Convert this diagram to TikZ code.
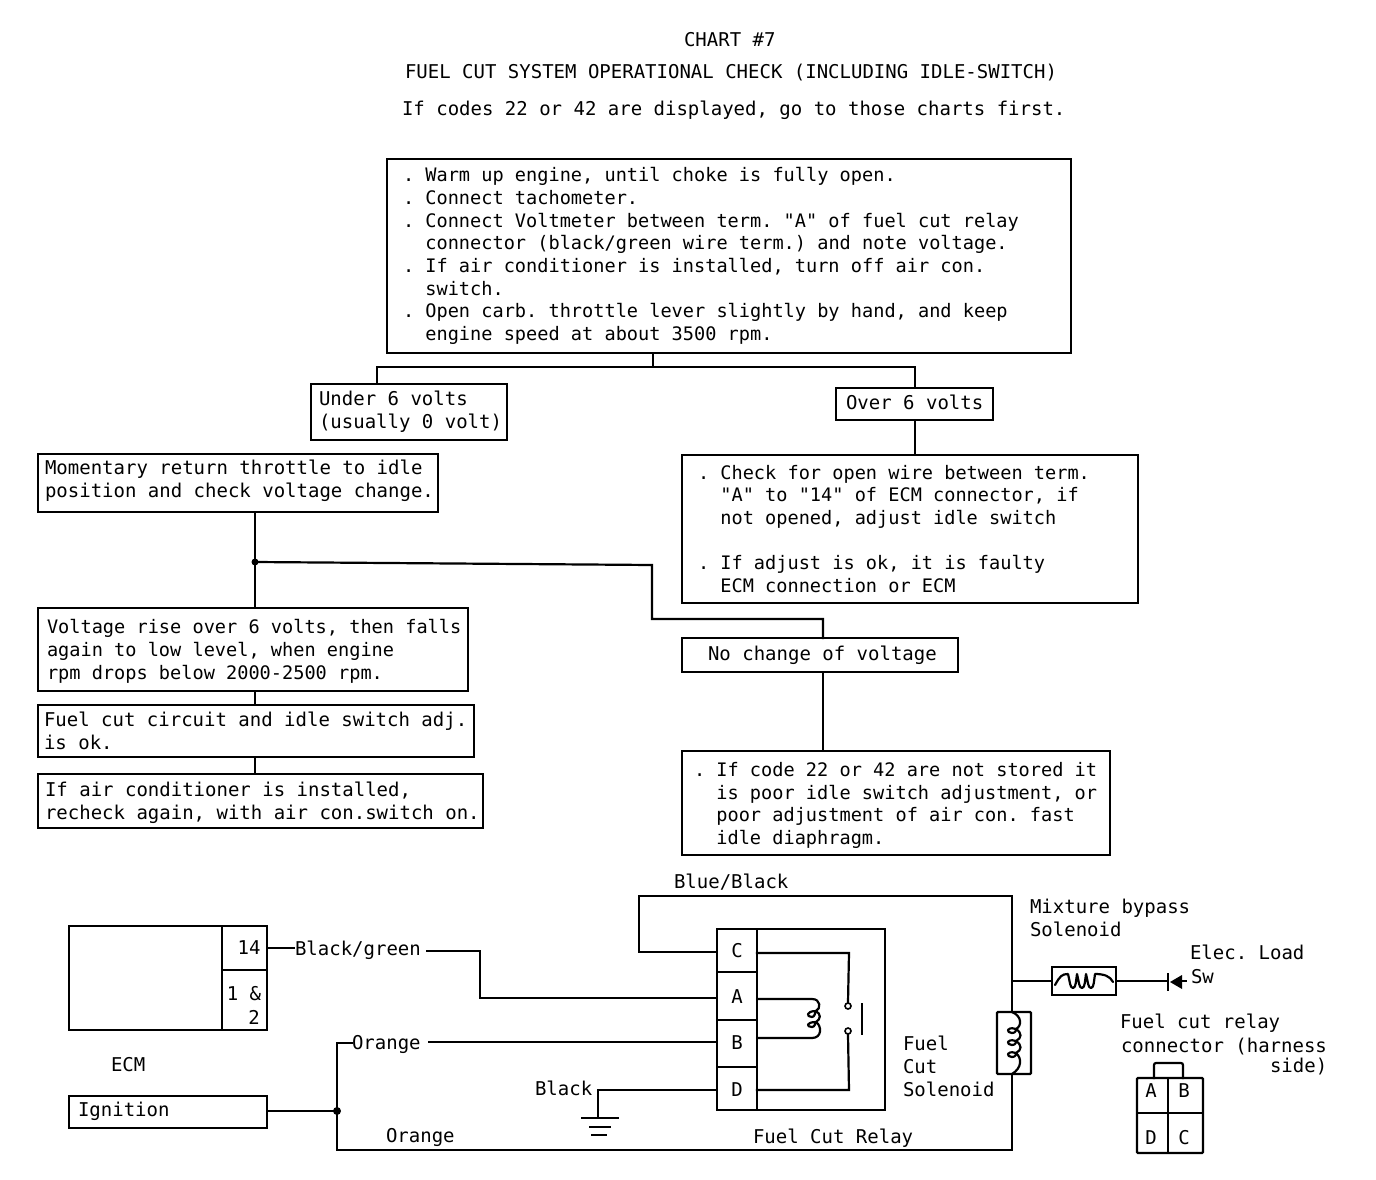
\documentclass[tikz,border=0pt]{standalone}
\usepackage{fontspec}
\setmonofont{DejaVu Sans Mono}
\renewcommand{\familydefault}{\ttdefault}
\newcommand{\nar}{\fontsize{18.6}{22.7}\selectfont\spaceskip=11.2pt\xspaceskip=11.2pt }
\newcommand{\bx}[7]{%
  \pgfmathsetmacro{\bw}{#4-#2}\pgfmathsetmacro{\bh}{#5-#3}%
  \pgfmathsetmacro{\bcx}{(#2+#4)/2}\pgfmathsetmacro{\bcy}{(#3+#5)/2}%
  \pgfmathsetmacro{\btw}{#4-#2-2}%
  \node[boxn,minimum width=\bw pt,minimum height=\bh pt,text width=\btw pt] (#1) at (\bcx,\bcy) {\leftskip=#6pt\relax\spaceskip=11.44pt\xspaceskip=11.44pt #7\par};}
\tikzset{
  boxn/.style={draw=black,line width=2pt,align=left,inner sep=0pt,outer sep=0pt,font=\fontsize{19}{22.7}\selectfont},
  rect/.style={draw=black,line width=2.4pt,inner sep=0pt,outer sep=0pt},
  txt/.style={anchor=base west,inner sep=0pt,outer sep=0pt,font=\fontsize{19}{22.7}\selectfont,align=left},
  small/.style={anchor=base,inner sep=0pt,outer sep=0pt,font=\fontsize{19}{22.7}\selectfont},
  wire/.style={line width=2.2pt,line join=miter,line cap=rect},
  thin wire/.style={line width=1.8pt},
  coil/.style={line width=2.2pt,line join=round,line cap=round},
  dotn/.style={circle,fill=black,inner sep=0pt,minimum size=7pt},
  ring/.style={circle,draw=black,line width=1.6pt,fill=white,inner sep=0pt,minimum size=6pt}
}
\begin{document}
\begin{tikzpicture}[x=1pt,y=-1pt]
\useasboundingbox (0,0) rectangle (1376,1180);
% titles
\node[txt] (t1) at (684,47) {CHART \#7};
\node[txt] (t2) at (405,79) {FUEL CUT SYSTEM OPERATIONAL CHECK (INCLUDING IDLE-SWITCH)};
\node[txt] (t3) at (402,116) {If codes 22 or 42 are displayed, go to those charts first.};
% flowchart boxes
\bx{start}{387}{159}{1071}{353}{15}{\nar . Warm up engine, until choke is fully open.\\. Connect tachometer.\\. Connect Voltmeter between term. "A" of fuel cut relay\\~~connector (black/green wire term.) and note voltage.\\. If air conditioner is installed, turn off air con.\\~~switch.\\. Open carb. throttle lever slightly by hand, and keep\\~~engine speed at about 3500 rpm.}
\bx{under}{311}{384}{507}{440}{7}{Under 6 volts\\(usually 0 volt)}
\bx{over}{836}{388}{993}{420}{9}{Over 6 volts\rule[-4pt]{0pt}{4pt}}
\bx{moment}{38}{454}{438}{512}{6}{Momentary return throttle to idle\\position and check voltage change.\rule[-8pt]{0pt}{8pt}}
\bx{check}{682}{455}{1138}{603}{15}{\nar . Check for open wire between term.\\~~"A" to "14" of ECM connector, if\\~~not opened, adjust idle switch\\~\\. If adjust is ok, it is faulty\\~~ECM connection or ECM}
\bx{rise}{38}{608}{468}{691}{8}{\nar\rule{0pt}{18pt}Voltage rise over 6 volts, then falls\\again to low level, when engine\\rpm drops below 2000-2500 rpm.}
\bx{nochange}{682}{638}{958}{672}{25}{No change of voltage}
\bx{fcok}{38}{705}{474}{757}{5}{Fuel cut circuit and idle switch adj.\\is ok.}
\bx{aircon}{38}{774}{483}{828}{6}{\rule{0pt}{18pt}If air conditioner is installed,\\recheck again, with air con.switch on.}
\bx{poor}{682}{751}{1110}{855}{11}{\nar\rule{0pt}{19pt}. If code 22 or 42 are not stored it\\~~is poor idle switch adjustment, or\\~~poor adjustment of air con. fast\\~~idle diaphragm.}
% flowchart connectors
\coordinate (split) at (653,367);
\coordinate (splitL) at (377,367);
\coordinate (splitR) at (915,367);
\coordinate (trunk) at (255,562);
\coordinate (bend1) at (652,565);
\coordinate (bend2) at (652,619);
\coordinate (bend3) at (823,619);
\draw[wire] (split |- start.south) -- (split);
\draw[wire] (splitL |- under.north) -- (splitL) -- (splitR) -- (splitR |- over.north);
\draw[wire] (splitR |- over.south) -- (splitR |- check.north);
\draw[wire] (trunk |- moment.south) -- (trunk |- rise.north);
\draw[wire] (trunk) -- (bend1) -- (bend2) -- (bend3) -- (bend3 |- nochange.north);
\draw[wire] (bend3 |- nochange.south) -- (bend3 |- poor.north);
\draw[wire] (trunk |- rise.south) -- (trunk |- fcok.north);
\draw[wire] (trunk |- fcok.south) -- (trunk |- aircon.north);
\node[dotn] (jtrunk) at (trunk) {};
% ECM
\node[rect,minimum width=198pt,minimum height=104pt] (ecm) at (168,978) {};
\coordinate (ecmA) at (222,926);
\coordinate (ecmB) at (222,970);
\draw[rect] (ecmA) -- (ecmA |- ecm.south);
\draw[line width=1.8pt] (ecmB) -- (ecmB -| ecm.east);
\node[small] (n14) at (249,954) {14};
\node[small] (n1a) at (244,1000) {1 \&};
\node[small] (n2) at (254,1024) {2};
\node[txt] (ecmlab) at (111,1071) {ECM};
\node[rect,minimum width=198pt,minimum height=32pt] (ign) at (168,1112) {};
\node[txt] (ignlab) at (78,1116) {Ignition};
% labels on wires
\node[txt] (bg) at (295,955) {Black/green};
\node[txt] (or1) at (352,1049) {Orange};
\node[txt] (or2) at (386,1142) {Orange};
\node[txt] (bb) at (674,888) {Blue/Black};
\node[txt] (blk) at (535,1095) {Black};
\node[txt] (fcs1) at (903,1050) {Fuel};
\node[txt] (fcs2) at (903,1073) {Cut};
\node[txt] (fcs3) at (903,1096) {Solenoid};
\node[txt] (fcr) at (753,1143) {Fuel Cut Relay};
% relay
\node[rect,minimum width=168pt,minimum height=181pt] (relay) at (801,1019.5) {};
\coordinate (rv) at (757,929);
\draw[rect] (rv) -- (rv |- relay.south);
\draw[line width=2.2pt] (relay.west |- 0,972) -- (757,972);
\draw[line width=2.2pt] (relay.west |- 0,1020) -- (757,1020);
\draw[line width=2.2pt] (relay.west |- 0,1067) -- (757,1067);
\node[small] (pc) at (737,957) {C};
\node[small] (pa) at (737,1003) {A};
\node[small] (pb) at (737,1049) {B};
\node[small] (pd) at (737,1096) {D};
% relay internals
\node[ring] (c1) at (848,1006) {};
\node[ring] (c2) at (848,1031) {};
\coordinate (barT) at (862,1004);
\coordinate (barB) at (862,1034);
\draw[wire] (barT) -- (barB);
\coordinate (rc) at (757,953);
\coordinate (rd) at (757,1090);
\draw[wire] (rc) -- (849,953) -- (c1.north);
\draw[wire] (c2.south) -- (849,1090) -- (rd);
\draw[coil] (757,999) -- (812,999) .. controls (821,999) and (821,1009) .. (816,1011)
  .. controls (806,1011) and (806,1017) .. (812,1017) .. controls (815,1017) and (815,1012) .. (816,1011)
  .. controls (821,1014) and (821,1019) .. (816,1022)
  .. controls (806,1022) and (806,1027) .. (812,1027) .. controls (815,1027) and (815,1023) .. (816,1022)
  .. controls (822,1026) and (822,1038) .. (812,1038) -- (757,1038);
% wiring
\coordinate (w1) at (427,951);
\coordinate (w2) at (480,951);
\coordinate (w3) at (480,998);
\draw[thin wire] (ecm.east |- 0,948) -- (bg.west |- 0,948);
\draw[wire] (w1) -- (w2) -- (w3) -- (relay.west |- w3);
\coordinate (bus) at (337,1111);
\coordinate (busT) at (337,1043);
\coordinate (busB) at (337,1150);
\coordinate (cor) at (1012,1150);
\coordinate (top) at (1012,896);
\coordinate (topL) at (639,896);
\coordinate (topLb) at (639,952);
\draw[wire] (ign.east |- bus) -- (bus);
\draw[wire] (or1.west |- busT) -- (busT) -- (busB) -- (cor) -- (cor |- 0,1074);
\draw[wire] (or1.east |- 0,1042) ++(8,0) -- (relay.west |- 0,1042);
\node[dotn,minimum size=8pt] (jbus) at (bus) {};
\draw[wire] (relay.west |- topLb) -- (topLb) -- (topL) -- (top) -- (1012,1012);
% ground
\coordinate (gnd) at (598,1118);
\draw[wire] (blk.east |- 0,1090) ++(6,0) -- (relay.west |- 0,1090);
\draw[wire] (598,1090) -- (gnd);
\draw[wire] (582,1118) -- (618,1118);
\draw[wire] (590,1127) -- (610,1127);
\draw[wire] (592,1135) -- (606,1135);
% fuel cut solenoid
\node[rect,minimum width=34pt,minimum height=62pt,rounded corners=1pt] (sol) at (1014,1043) {};
\draw[coil] (1012,1012) .. controls (1022,1016) and (1022,1026) .. (1016,1029)
  .. controls (1006,1026) and (1006,1033) .. (1012,1033) .. controls (1016,1033) and (1016,1030) .. (1016,1029)
  .. controls (1022,1033) and (1022,1038) .. (1016,1041)
  .. controls (1006,1038) and (1006,1045) .. (1012,1045) .. controls (1016,1045) and (1016,1042) .. (1016,1041)
  .. controls (1022,1045) and (1022,1050) .. (1016,1053)
  .. controls (1006,1050) and (1006,1057) .. (1012,1057) .. controls (1016,1057) and (1016,1054) .. (1016,1053)
  .. controls (1022,1058) and (1022,1068) .. (1012,1074);
% mixture bypass
\node[txt] (mix1) at (1030,913) {Mixture bypass};
\node[txt] (mix2) at (1030,936) {Solenoid};
\node[rect,minimum width=64pt,minimum height=28pt] (mixb) at (1084,981) {};
\coordinate (mj) at (1014,981);
\coordinate (dio) at (1166,981);
\draw[wire] (mj) -- (mixb.west);
\draw[wire] (mixb.east) -- (dio);
\draw[coil] (mixb.west) ++(3,4) .. controls (1060,976) and (1062,974) .. (1068,974)
  .. controls (1070,982) and (1070,988) .. (1073,988) .. controls (1076,988) and (1076,980) .. (1077,974)
  .. controls (1079,982) and (1079,988) .. (1082,988) .. controls (1085,988) and (1085,980) .. (1086,974)
  .. controls (1088,982) and (1088,988) .. (1091,988) .. controls (1094,988) and (1094,980) .. (1095,974)
  .. controls (1104,974) and (1110,976) .. (1113,982);
\draw[wire] (1168,974) -- (1168,990);
\fill (1170,982) -- (1182,975) -- (1182,989) -- cycle;
\draw[wire] (1180,981) -- (1186,981);
\node[txt] (elec) at (1190,959) {Elec. Load};
\node[txt] (sw) at (1191,983) {Sw};
% connector
\node[txt] (c1lab) at (1120,1028) {Fuel cut relay};
\node[txt] (c2lab) at (1121,1052) {connector (harness};
\node[txt] (c3lab) at (1270,1072) {side)};
\node[rect,minimum width=66pt,minimum height=75pt,rounded corners=1pt] (conn) at (1170,1115.5) {};
\draw[line width=2.2pt] (1168,1078) -- (1168,1153);
\draw[line width=2.2pt] (1137,1113) -- (1203,1113);
\draw[wire,rounded corners=2pt] (1154,1078) -- (1154,1063) -- (1183,1063) -- (1183,1078);
\node[small] (ca) at (1151,1097) {A};
\node[small] (cb) at (1184,1097) {B};
\node[small] (cd) at (1151,1144) {D};
\node[small] (cc) at (1184,1144) {C};
\end{tikzpicture}
\end{document}
